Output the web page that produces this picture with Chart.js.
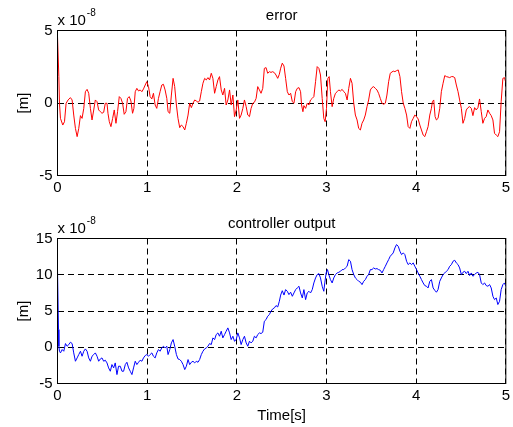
<!DOCTYPE html>
<html>
<head>
<meta charset="utf-8">
<script src="https://cdn.jsdelivr.net/npm/chart.js@4.4.0/dist/chart.umd.min.js"></script>
<style>
  html, body { margin: 0; padding: 0; background: #fff; }
  #wrap { position: relative; width: 513px; height: 427px; }
  canvas { position: absolute; left: 0; }
</style>
</head>
<body>
<div id="wrap">
  <canvas id="errChart" width="513" height="205" style="top:0"></canvas>
  <canvas id="ctrlChart" width="513" height="222" style="top:205px"></canvas>
</div>
<script>
// time axis [s]
const xTicks = [0, 1, 2, 3, 4, 5];

// error signal, x 10^-8 m
const errTime = [
  0, 0.015, 0.022, 0.033, 0.059, 0.078, 0.096, 0.118, 0.144, 0.163,
  0.181, 0.2, 0.219, 0.237, 0.256, 0.274, 0.293, 0.311, 0.33, 0.348,
  0.367, 0.385, 0.404, 0.422, 0.441, 0.459, 0.478, 0.496, 0.515, 0.533,
  0.552, 0.563, 0.578, 0.596, 0.615, 0.633, 0.652, 0.67, 0.689, 0.707,
  0.726, 0.744, 0.763, 0.781, 0.8, 0.819, 0.837, 0.852, 0.867, 0.885,
  0.904, 0.922, 0.941, 0.959, 0.978, 0.996, 1.015, 1.033, 1.052, 1.07,
  1.089, 1.107, 1.126, 1.144, 1.163, 1.181, 1.2, 1.219,
  1.233, 1.252, 1.27, 1.289, 1.307, 1.326, 1.344, 1.363, 1.381, 1.4,
  1.419, 1.437, 1.456, 1.474, 1.493, 1.511, 1.53, 1.548, 1.567, 1.585,
  1.604, 1.622, 1.641, 1.659, 1.678, 1.696, 1.715, 1.733, 1.752, 1.77,
  1.789, 1.807, 1.826, 1.844, 1.863, 1.881, 1.9, 1.919, 1.937, 1.956,
  1.974, 1.993, 2.011, 2.03, 2.048, 2.067, 2.085, 2.104, 2.122, 2.141,
  2.159, 2.178, 2.196, 2.215, 2.233, 2.252, 2.27, 2.289, 2.307, 2.326,
  2.344, 2.363, 2.381, 2.4, 2.419, 2.437, 2.456, 2.474,
  2.489, 2.507, 2.526, 2.544, 2.563, 2.581, 2.6, 2.619, 2.637, 2.656,
  2.674, 2.693, 2.711, 2.722, 2.737, 2.748, 2.767, 2.785, 2.804, 2.822,
  2.841, 2.859, 2.878, 2.896, 2.915, 2.933, 2.952, 2.97, 2.985, 3.0,
  3.015, 3.03, 3.044, 3.063, 3.081, 3.1, 3.119, 3.137, 3.156, 3.174,
  3.193, 3.211, 3.23, 3.248, 3.267, 3.285, 3.304, 3.322, 3.341, 3.359,
  3.378, 3.396, 3.415, 3.433, 3.452, 3.47, 3.489, 3.507, 3.526, 3.544,
  3.563, 3.581, 3.6, 3.619, 3.637, 3.656, 3.674, 3.693, 3.711,
  3.744, 3.763, 3.781, 3.8, 3.819, 3.837, 3.856, 3.874, 3.893, 3.911,
  3.93, 3.948, 3.967, 3.985, 4.004, 4.022, 4.041, 4.059, 4.078, 4.096,
  4.115, 4.133, 4.152, 4.17, 4.181, 4.196, 4.211, 4.226, 4.244, 4.263,
  4.281, 4.3, 4.319, 4.337, 4.356, 4.374, 4.393, 4.411, 4.43, 4.448,
  4.467, 4.485, 4.504, 4.522, 4.541, 4.559, 4.578, 4.596, 4.615, 4.633,
  4.652, 4.67, 4.689, 4.707, 4.726, 4.744, 4.763, 4.781, 4.8, 4.819,
  4.837, 4.856, 4.874, 4.893, 4.911, 4.93, 4.948, 4.967, 4.985, 5.0
];
const errValue = [
  4.6, 1.82, -0.02, -1.06, -1.52, -1.29, -0.02, 0.21, 0.37, 0.21,
  -0.83, -1.75, -2.32, -1.75, -0.87, -1.06, -0.37, 0.78, 0.94, 0.67,
  -0.37, -1.17, -0.48, 0.21, 0.09, -0.48, -0.6, -0.71, -0.64, -0.02,
  -0.02, -0.71, -1.29, -1.63, -1.06, -0.48, -1.4, -0.6, 0.44, 0.32,
  -0.02, -0.78, -0.6, 0.32, 0.44, 0.14, -0.71, -0.37, 0.78, 1.01,
  0.83, 0.9, 0.78, 0.97, 1.24, 1.47, 1.13, 0.44, 0.28, 0.67,
  -0.14, -0.37, 0.32, 0.78, 1.24, 1.29, 0.9, 0.32,
  -0.6, -0.71, 0.55, 1.7, 1.13, -0.14, -1.06, -1.7, -1.52, -1.63,
  -1.86, -1.4, -0.83, -0.02, -0.32, -0.02, 0.21, 0.14, 0.05, 0.14,
  0.78, 1.36, 1.7, 1.59, 1.75, 1.59, 2.05, 1.7, 0.67, 1.13,
  1.59, 1.82, 0.9, 0.55, 1.01, -0.14, 0.21, 0.9, -0.14, 0.55,
  -0.94, -0.48, 0.21, -1.06, -0.83, -0.37, 0.21, -0.25, -0.83, -0.94,
  -0.37, -0.02, 0.05, 0.32, 1.13, 0.9, 0.67, 1.01, 2.39, 2.44,
  2.05, 2.16, 2.11, 2.16, 2.09, 1.93, 1.7, 1.98,
  2.4, 2.75, 2.55, 1.7, 0.78, 0.55, 0.67, 0.09, -0.02, 0.78,
  1.01, 1.06, 0.78, -0.14, -0.6, -0.18, -0.37, -0.02, -0.14, 0.21,
  0.32, 0.44, 1.47, 2.51, 2.39, 1.93, 0.32, -1.06, -1.29, -0.37,
  1.7, 1.82, 0.78, -0.25, 0.32, 0.67, 0.78, 0.9, 0.83, 0.94,
  0.78, 0.67, 0.21, 1.01, 1.7, 1.36, -0.02, -0.83, -1.17, -1.75,
  -1.86, -1.4, -1.17, -0.83, -0.25, 0.21, 0.9, 1.06, 1.13, 1.01,
  0.9, 0.67, 0.32, -0.02, -0.09, -0.02, 0.55, 1.47, 2.05,
  2.2, 2.16, 2.23, 2.28, 1.82, 0.78, -0.02, -0.37, -0.83, -1.63,
  -1.75, -1.29, -1.06, -0.83, -0.94, -1.1, -1.52, -1.86, -2.21, -2.32,
  -1.98, -1.63, -0.83, -0.37, 0.09, 0.21, -0.94, -1.17, -1.06, -0.37,
  0.78, 1.36, 1.89, 1.82, 1.79, 1.75, 1.82, 1.82, 1.75, 1.24,
  0.78, 0.21, -0.37, -1.4, -1.06, -0.48, -0.32, -0.25, -0.37, -0.87,
  -0.32, -0.48, -0.32, 0.28, -0.6, -1.4, -1.06, -0.94, -0.48, -0.71,
  -0.87, -1.17, -2.09, -2.21, -2.32, -1.98, 0.09, 1.7, 1.75, 1.4
];

// controller output, x 10^-8 m
const ctrlTime = [
  0, 0.011, 0.015, 0.022, 0.033, 0.052, 0.07, 0.089, 0.107, 0.126,
  0.144, 0.163, 0.181, 0.2, 0.219, 0.237, 0.256, 0.274, 0.293, 0.311,
  0.33, 0.348, 0.367, 0.385, 0.404, 0.422, 0.441, 0.459, 0.478, 0.496,
  0.515, 0.533, 0.552, 0.57, 0.589, 0.607, 0.626, 0.644, 0.663, 0.681,
  0.7, 0.719, 0.737, 0.756, 0.774, 0.793, 0.811, 0.83, 0.848, 0.867,
  0.885, 0.904, 0.922, 0.941, 0.959, 0.978, 0.996, 1.015, 1.033, 1.052,
  1.07, 1.089, 1.107, 1.126, 1.144, 1.163, 1.181, 1.2, 1.219,
  1.233, 1.252, 1.27, 1.289, 1.307, 1.326, 1.344, 1.363, 1.381, 1.4,
  1.419, 1.437, 1.456, 1.474, 1.493, 1.511, 1.53, 1.548, 1.567, 1.585,
  1.604, 1.622, 1.641, 1.659, 1.678, 1.696, 1.715, 1.733, 1.752, 1.77,
  1.789, 1.807, 1.826, 1.844, 1.863, 1.881, 1.9, 1.919, 1.937, 1.956,
  1.974, 1.993, 2.011, 2.03, 2.048, 2.067, 2.085, 2.104, 2.122, 2.141,
  2.159, 2.178, 2.196, 2.215, 2.233, 2.252, 2.27, 2.289, 2.307, 2.326,
  2.344, 2.363, 2.381, 2.4, 2.419, 2.437, 2.456, 2.474,
  2.489, 2.507, 2.526, 2.544, 2.563, 2.581, 2.6, 2.619, 2.637, 2.656,
  2.674, 2.693, 2.711, 2.73, 2.748, 2.767, 2.785, 2.804, 2.822, 2.841,
  2.859, 2.878, 2.896, 2.915, 2.933, 2.952, 2.97, 2.981, 2.996, 3.011,
  3.026, 3.044, 3.063, 3.081, 3.1, 3.119, 3.137, 3.156, 3.174, 3.193,
  3.211, 3.23, 3.248, 3.267, 3.285, 3.304, 3.322, 3.341, 3.359, 3.378,
  3.396, 3.415, 3.433, 3.452, 3.47, 3.489, 3.507, 3.526, 3.544, 3.563,
  3.581, 3.6, 3.619, 3.637, 3.656, 3.674, 3.693, 3.711,
  3.744, 3.763, 3.781, 3.8, 3.819, 3.837, 3.856, 3.874, 3.893, 3.911,
  3.93, 3.948, 3.967, 3.985, 4.004, 4.022, 4.041, 4.059, 4.078, 4.096,
  4.115, 4.133, 4.152, 4.17, 4.189, 4.207, 4.226, 4.244, 4.263, 4.281,
  4.3, 4.319, 4.337, 4.356, 4.374, 4.393, 4.411, 4.43, 4.448, 4.467,
  4.485, 4.504, 4.522, 4.541, 4.559, 4.578, 4.596, 4.615, 4.633, 4.652,
  4.67, 4.689, 4.707, 4.726, 4.744, 4.763, 4.781, 4.8, 4.819, 4.837,
  4.856, 4.874, 4.893, 4.911, 4.93, 4.948, 4.967, 4.985, 5.0
];
const ctrlValue = [
  10.7, 2.44, 0.14, -0.55, -0.78, -0.32, -0.55, 0.51, 0.14, 0.37,
  0.69, 0.51, -0.78, -1.93, -1.47, -1.01, -0.55, -1.24, -0.55, -0.23,
  -0.55, -1.47, -1.93, -1.24, -1.01, -0.78, -1.24, -1.93, -1.61, -1.47,
  -1.93, -1.79, -2.16, -2.85, -3.31, -2.39, -2.85, -2.16, -3.77, -2.62,
  -2.62, -3.31, -3.31, -2.39, -2.07, -2.85, -3.31, -3.77, -2.85, -1.93,
  -2.39, -2.07, -1.79, -1.93, -1.47, -1.15, -1.01, -1.24, -1.01, -0.78,
  -1.24, -1.47, -0.78, -0.32, -0.55, -0.09, 0.14, -0.09, 0.14,
  -1.01, -0.32, 0.6, 1.06, 0.14, -1.01, -1.61, -1.7, -1.93, -2.39,
  -3.08, -2.62, -1.7, -2.39, -2.07, -1.93, -2.16, -1.93, -2.07, -1.7,
  -1.01, -0.55, -0.23, -0.09, 0.14, 0.51, 0.37, 1.29, 1.06, 1.75,
  1.98, 1.52, 2.21, 1.29, 1.75, 2.21, 2.67, 1.98, 1.06, 1.52,
  0.83, 1.06, 1.98, 1.29, 0.37, 1.06, 1.52, 0.6, 0.14, 0.83,
  0.6, 0.83, 1.52, 1.29, 1.75, 1.98, 1.89, 2.07, 3.59, 3.82,
  4.28, 4.51, 4.97, 5.29, 5.43, 5.75, 5.56, 6.34,
  7.2, 7.8, 7.2, 7.95, 7.72, 7.26, 7.59, 7.03, 7.49, 7.95,
  8.18, 8.41, 7.49, 6.8, 7.95, 6.57, 7.49, 7.72, 7.49, 7.95,
  8.87, 9.56, 10.02, 10.16, 9.56, 8.41, 7.72, 8.87, 10.25, 10.71,
  10.02, 9.33, 8.87, 9.56, 10.02, 10.25, 10.34, 10.48, 10.71, 10.71,
  10.94, 11.17, 12.09, 11.86, 10.71, 10.02, 9.56, 9.33, 9.1, 8.97,
  8.64, 9.1, 9.33, 9.79, 10.02, 10.71, 10.71, 10.94, 10.8, 10.85,
  10.71, 10.62, 10.25, 10.71, 11.17, 11.63, 12.09, 12.55,
  13.01, 13.7, 14.16, 13.93, 13.24, 12.78, 13.01, 12.78, 11.86, 11.4,
  11.63, 11.4, 11.63, 11.17, 10.71, 10.25, 9.79, 9.33, 8.87, 8.51,
  8.41, 8.18, 9.1, 9.33, 8.18, 7.86, 7.59, 7.95, 9.1, 9.56,
  10.02, 10.25, 10.48, 10.71, 11.17, 11.4, 11.86, 12.0, 11.63, 11.4,
  10.94, 10.02, 10.34, 10.48, 10.16, 10.48, 9.89, 10.25, 9.79, 10.02,
  10.25, 10.34, 10.02, 8.87, 8.64, 8.87, 8.51, 8.41, 8.64, 8.18,
  7.03, 6.57, 6.8, 5.89, 6.34, 7.95, 8.64, 8.87, 8.4
];

const errTicks = [-5, 0, 5];
const ctrlTicks = [-5, 0, 5, 10, 15];

const FONT = 'Arial, "Liberation Sans", Helvetica, sans-serif';

function toPoints(times, values) {
  if (times.length !== values.length) {
    throw new Error('length mismatch ' + times.length + ' vs ' + values.length);
  }
  return times.map((t, i) => ({ x: t, y: values[i] }));
}

// titles, box and the "x 10^-8" exponent, MATLAB style
const matlabDecor = {
  id: 'matlabDecor',
  afterDraw(chart, args, opts) {
    const { ctx, chartArea: a } = chart;
    const cx = (a.left + a.right) / 2;
    ctx.save();
    ctx.strokeStyle = '#000';
    ctx.lineWidth = 1;
    ctx.setLineDash([]);
    ctx.strokeRect(a.left, a.top, a.right - a.left, a.bottom - a.top);

    ctx.fillStyle = '#000';
    ctx.textBaseline = 'alphabetic';
    ctx.font = '15px ' + FONT;
    ctx.textAlign = 'center';
    ctx.fillText(opts.title, cx, a.top - 11);

    ctx.textAlign = 'left';
    ctx.fillText('x 10', a.left, a.top - 6);
    const w = ctx.measureText('x 10').width;
    ctx.font = '10px ' + FONT;
    ctx.fillText('-8', a.left + w + 1, a.top - 15);

    ctx.font = '15px ' + FONT;
    ctx.save();
    ctx.translate(24, (a.top + a.bottom) / 2);
    ctx.rotate(-Math.PI / 2);
    ctx.textAlign = 'center';
    ctx.textBaseline = 'middle';
    ctx.fillText('[m]', 0, 0);
    ctx.restore();

    if (opts.xLabel) {
      ctx.textAlign = 'center';
      ctx.fillText(opts.xLabel, cx, opts.xLabelY);
    }
    ctx.restore();
  }
};

function makeChart(id, times, values, color, yTicks, cfg) {
  const yMin = yTicks[0];
  const yMax = yTicks[yTicks.length - 1];
  return new Chart(document.getElementById(id), {
    type: 'line',
    data: {
      datasets: [{
        data: toPoints(times, values),
        borderColor: color,
        borderWidth: 1,
        pointRadius: 0,
        tension: 0,
        fill: false
      }]
    },
    options: {
      responsive: false,
      animation: false,
      events: [],
      layout: { padding: { top: cfg.padTop, right: 5.5, left: 0, bottom: 0 } },
      plugins: {
        legend: { display: false },
        tooltip: { enabled: false },
        title: { display: false },
        matlabDecor: { title: cfg.title, xLabel: cfg.xLabel, xLabelY: cfg.xLabelY }
      },
      scales: {
        x: {
          type: 'linear',
          min: xTicks[0],
          max: xTicks[xTicks.length - 1],
          afterBuildTicks: s => { s.ticks = xTicks.map(v => ({ value: v })); },
          afterFit: s => { s.height = cfg.xAxisH; },
          ticks: { padding: 3, color: '#000', font: { family: FONT, size: 15 }, maxRotation: 0, autoSkip: false },
          grid: { color: '#000', lineWidth: 1, drawTicks: false },
          border: { display: false, dash: [6, 4] }
        },
        y: {
          type: 'linear',
          min: yMin,
          max: yMax,
          afterBuildTicks: s => { s.ticks = yTicks.map(v => ({ value: v })); },
          afterFit: s => { s.width = 57.5; },
          ticks: { padding: 5, color: '#000', font: { family: FONT, size: 15 }, autoSkip: false },
          grid: { color: '#000', lineWidth: 1, drawTicks: false },
          border: { display: false, dash: [6, 4] }
        }
      }
    },
    plugins: [matlabDecor]
  });
}

makeChart('errChart', errTime, errValue, '#ff0000', errTicks,
  { title: 'error', padTop: 30.5, xAxisH: 29.5 });
makeChart('ctrlChart', ctrlTime, ctrlValue, '#0000ff', ctrlTicks,
  { title: 'controller output', padTop: 33.5, xAxisH: 43.5, xLabel: 'Time[s]', xLabelY: 215 });
</script>
</body>
</html>
